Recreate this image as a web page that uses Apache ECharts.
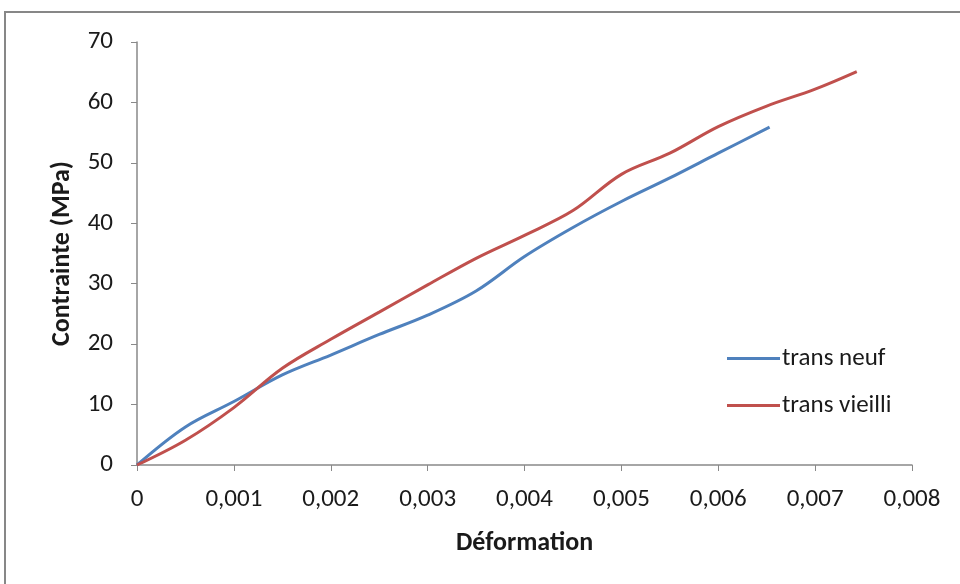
<!DOCTYPE html>
<html>
<head>
<meta charset="utf-8">
<script src="https://cdn.jsdelivr.net/npm/echarts@6/dist/echarts.min.js"></script>
<style>
  html, body { margin: 0; padding: 0; background: #fff; }
  #chart { width: 960px; height: 584px; }
</style>
</head>
<body>
<div id="chart"></div>
<script>
// courbes contrainte / deformation
var neufX = [0, 0.0005, 0.001, 0.0015, 0.002, 0.0025, 0.003, 0.0035, 0.004, 0.0045, 0.005, 0.0055, 0.006, 0.00653];
var neufY = [0, 6.3, 10.5, 14.9, 18.2, 21.6, 24.8, 28.8, 34.5, 39.3, 43.6, 47.5, 51.6, 55.9];

var vieilliX = [0, 0.0005, 0.001, 0.0015, 0.002, 0.0025, 0.003, 0.0035, 0.004, 0.0045, 0.005, 0.0055, 0.006, 0.0065, 0.007, 0.00743];
var vieilliY = [0, 4.1, 9.5, 16, 20.8, 25.3, 29.8, 34.2, 38.0, 42.1, 48.1, 51.6, 56.0, 59.4, 62.2, 65.1];

var seriesNames = ['trans neuf', 'trans vieilli'];
var colors = ['#4F81BD', '#C0504D'];

function pairs(xs, ys) {
  return xs.map(function (x, i) { return [x, ys[i]]; });
}

var font = 'Carlito, Lato, sans-serif';
var axisGray = '#898989';
var textCol = '#1a1a1a';

var chart = echarts.init(document.getElementById('chart'));
chart.setOption({
  animation: false,
  backgroundColor: '#fff',
  graphic: [{
    type: 'rect',
    shape: { x: 5, y: 12, width: 1000, height: 600 },
    style: { fill: 'none', stroke: '#878787', lineWidth: 2 },
    silent: true
  }],
  grid: { left: 137, right: 48, top: 42, bottom: 119 },
  legend: {
    orient: 'vertical',
    left: 722,
    top: 341,
    itemWidth: 53,
    itemHeight: 3,
    itemGap: 22,
    icon: 'rect',
    textStyle: { fontFamily: font, fontSize: 25, color: textCol, padding: [0, 0, 0, -3] },
    data: seriesNames
  },
  xAxis: {
    type: 'value',
    min: 0, max: 0.008, interval: 0.001,
    name: 'Déformation',
    nameLocation: 'middle',
    nameGap: 65,
    nameTextStyle: { fontFamily: font, fontWeight: 'bold', fontSize: 26, color: textCol },
    axisLine: { lineStyle: { color: axisGray, width: 1.5 } },
    axisTick: { show: true, length: 6, lineStyle: { color: axisGray } },
    splitLine: { show: false },
    axisLabel: {
      margin: 22,
      fontFamily: font, fontSize: 25, color: textCol,
      formatter: function (v) { return v === 0 ? '0' : v.toFixed(3).replace('.', ','); }
    }
  },
  yAxis: {
    type: 'value',
    min: 0, max: 70, interval: 10,
    name: 'Contrainte (MPa)',
    nameLocation: 'middle',
    nameGap: 62,
    nameRotate: 90,
    nameTextStyle: { fontFamily: font, fontWeight: 'bold', fontSize: 26, color: textCol },
    axisLine: { show: true, lineStyle: { color: axisGray, width: 1.5 } },
    axisTick: { show: true, length: 6, lineStyle: { color: axisGray } },
    splitLine: { show: false },
    axisLabel: { margin: 24, fontFamily: font, fontSize: 25, color: textCol }
  },
  series: [
    {
      name: seriesNames[0],
      type: 'line',
      data: pairs(neufX, neufY),
      smooth: 0.35,
      showSymbol: false,
      color: colors[0],
      lineStyle: { width: 3, color: colors[0] }
    },
    {
      name: seriesNames[1],
      type: 'line',
      data: pairs(vieilliX, vieilliY),
      smooth: 0.35,
      showSymbol: false,
      color: colors[1],
      lineStyle: { width: 3, color: colors[1] }
    }
  ]
});
</script>
</body>
</html>
